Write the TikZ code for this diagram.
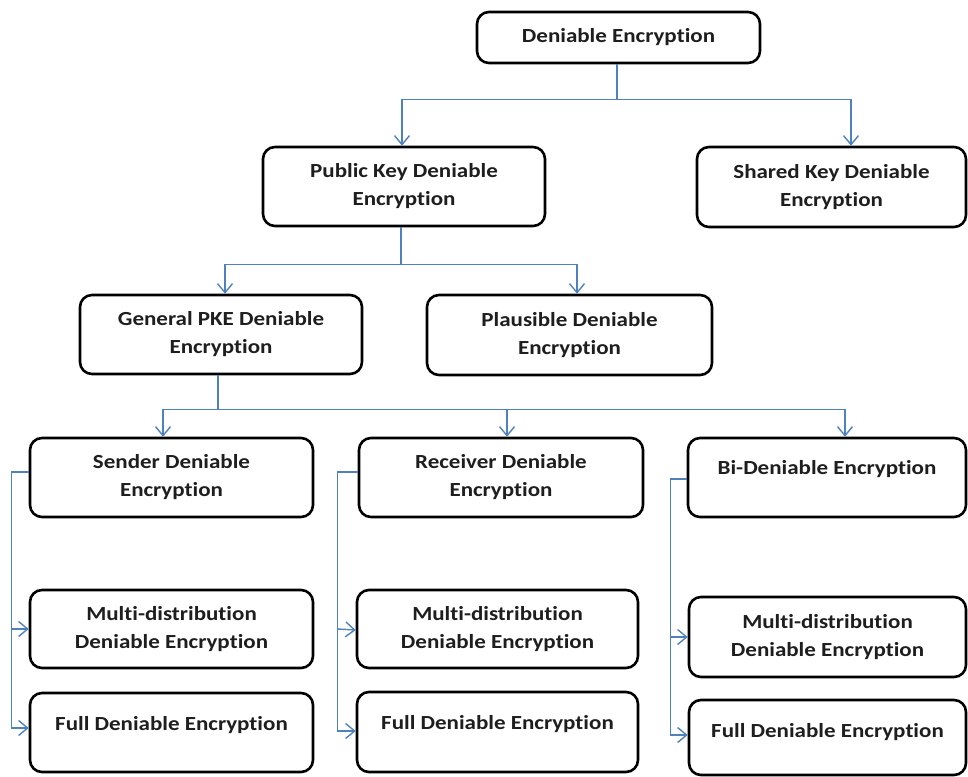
\documentclass[tikz,border=0pt]{standalone}
\usepackage{fontspec}
\setmainfont{Carlito}[FakeStretch=1.15, Ligatures=NoCommon]
\usetikzlibrary{arrows.meta}
\definecolor{linkblue}{RGB}{79,129,189}
\definecolor{inkgray}{RGB}{30,30,30}
\begin{document}
\begin{tikzpicture}[x=1pt,y=-1pt,
  boxfont/.style={font=\fontsize{20}{28}\selectfont\bfseries, text=inkgray},
  box/.style={draw=black, line width=2.6pt, rounded corners=12pt, fill=white,
    minimum width=283pt, minimum height=79pt, inner sep=0pt, align=center, boxfont},
  lbl/.style={inner sep=0pt, align=center, boxfont},
  link/.style={draw=linkblue, line width=1.4pt},
  arr/.style={link, -{Straight Barb[length=9pt,width=15pt]}}]
\useasboundingbox (0,0) rectangle (968,776);

% level 0
\node[box, minimum height=51pt] (root) at (618.5,37.5) {Deniable Encryption};

% level 1
\node[box, minimum width=282pt] (pub) at (404,186.5) {Public Key Deniable\\Encryption};
\node[box, minimum width=269pt, minimum height=80pt] (shared) at (831.5,187) {Shared Key Deniable\\Encryption};

% level 2
\node[box, minimum width=282pt] (gen) at (221,334.5) {General PKE Deniable\\Encryption};
\node[box, minimum width=285pt, minimum height=80pt] (plaus) at (569.5,335) {Plausible Deniable\\Encryption};

% level 3
\node[box] (send) at (171.5,477.5) {Sender Deniable\\Encryption};
\node[box, minimum width=284pt] (recv) at (501,477.5) {Receiver Deniable\\Encryption};
\node[box, minimum width=278pt] (bi) at (827,477.5) {};
\node[lbl] (bit) at ([yshift=-32pt]bi.north) {Bi-Deniable Encryption};

% level 4, sender column
\node[box, minimum height=78pt] (multiS) at (171.5,629) {Multi-distribution\\Deniable Encryption};
\node[box] (fullS) at (171.5,732.5) {};
\node[lbl] (fullSt) at ([yshift=-33pt]fullS.north) {Full Deniable Encryption};

% level 4, receiver column
\node[box, minimum width=281pt, minimum height=78pt] (multiR) at (497.5,629) {Multi-distribution\\Deniable Encryption};
\node[box, minimum width=281pt, minimum height=80pt] (fullR) at (497.5,732) {};
\node[lbl] (fullRt) at ([yshift=-33pt]fullR.north) {Full Deniable Encryption};

% level 4, bi-deniable column
\node[box, minimum width=277pt, minimum height=80pt] (multiB) at (827.5,637) {Multi-distribution\\Deniable Encryption};
\node[box, minimum width=277pt, minimum height=75pt] (fullB) at (827.5,737.5) {};
\node[lbl] (fullBt) at ([yshift=-33pt]fullB.north) {Full Deniable Encryption};

% tree connectors
\draw[link] ([xshift=-1.5pt]root.south) -- ++(0,35) coordinate (rootBus);
\draw[arr] (rootBus) -| ([xshift=-2pt]pub.north);
\draw[arr] (rootBus) -| ([xshift=19.5pt]shared.north);

\draw[link] ([xshift=-3pt]pub.south) -- ++(0,37) coordinate (pubBus);
\draw[arr] (pubBus) -| ([xshift=4pt]gen.north);
\draw[arr] (pubBus) -| ([xshift=7.5pt]plaus.north);

\draw[link] ([xshift=-3pt]gen.south) -- ++(0,34) coordinate (genBus);
\draw[arr] (genBus) -| ([xshift=-8.5pt]send.north);
\draw[arr] (genBus) -| ([xshift=6pt]recv.north);
\draw[arr] (genBus) -| ([xshift=18pt]bi.north);

% side connectors to the variants
\draw[arr] ([yshift=5.5pt]send.west) -- ++(-17,0) coordinate (sendBus) |- ([yshift=4.5pt]fullS.west);
\draw[arr] (sendBus |- multiS.west) -- (multiS.west);

\draw[arr] ([yshift=5.5pt]recv.west) -- ++(-20,0) coordinate (recvBus) |- ([yshift=1pt]fullR.west);
\draw[arr] (recvBus |- multiR.west) -- ([yshift=-1pt]multiR.west);

\draw[arr] ([yshift=-1.5pt]bi.west) -- ++(-16,0) coordinate (biBus) |- ([yshift=2.5pt]fullB.west);
\draw[arr] (biBus |- multiB.west) -- (multiB.west);
\end{tikzpicture}
\end{document}
